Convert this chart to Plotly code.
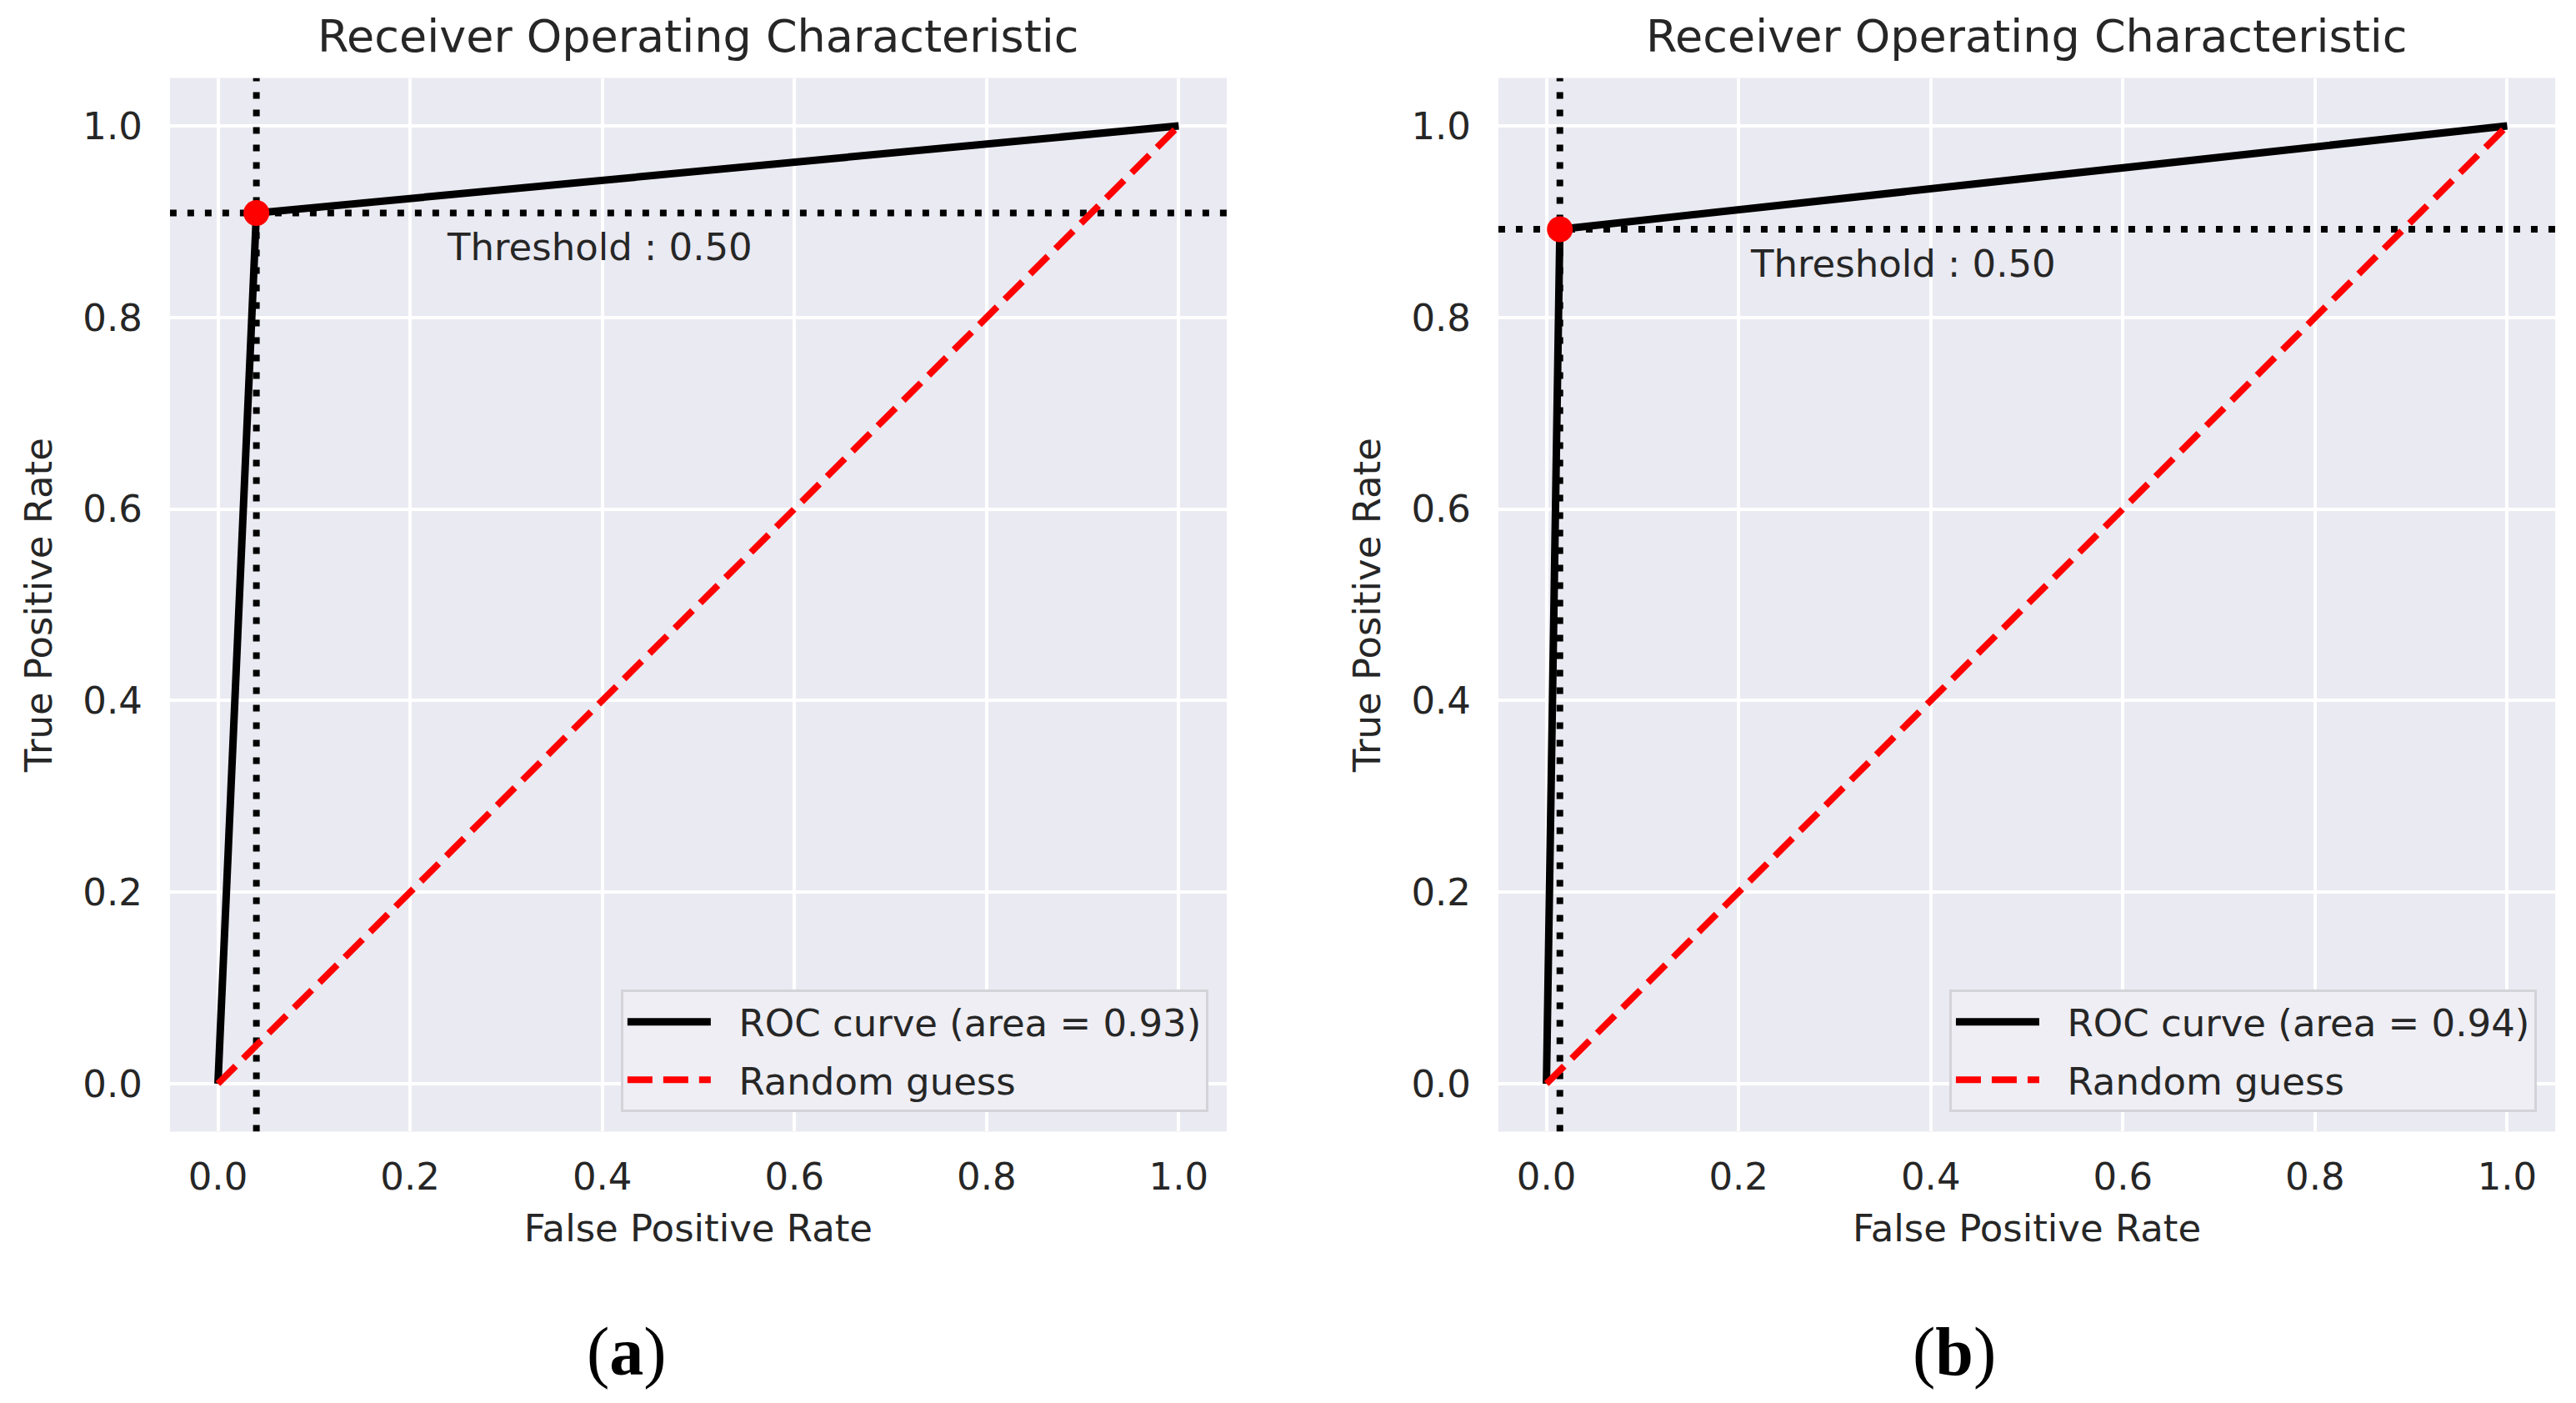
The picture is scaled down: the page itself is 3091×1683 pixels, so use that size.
import plotly.graph_objects as go

# ROC data
fpr_a = [0.0, 0.040, 1.0]
tpr_a = [0.0, 0.909, 1.0]
fpr_b = [0.0, 0.014, 1.0]
tpr_b = [0.0, 0.892, 1.0]
auc_a = 0.93
auc_b = 0.94
threshold = 0.50
chance = [0.0, 1.0]
ticks = [0.0, 0.2, 0.4, 0.6, 0.8, 1.0]
axis_range = [-0.05, 1.05]
captions = ['a', 'b']

TXT = '#262626'
FONT = 'DejaVu Sans'
DOT = '8px,13px'
NB = '\u00a0\u00a0'  # small gap between legend line and label

fig = go.Figure()

panels = [
    (fpr_a, tpr_a, auc_a, 'x', 'y', 'legend'),
    (fpr_b, tpr_b, auc_b, 'x2', 'y2', 'legend2'),
]

for fpr, tpr, auc, xa, ya, lg in panels:
    op_x, op_y = fpr[1], tpr[1]

    # dotted guide lines through the operating point, across the whole axes
    fig.add_shape(type='line', xref=xa, yref=ya,
                  x0=axis_range[0], x1=axis_range[1], y0=op_y, y1=op_y,
                  line=dict(color='black', width=8, dash=DOT), layer='between')
    fig.add_shape(type='line', xref=xa, yref=ya,
                  x0=op_x, x1=op_x, y0=axis_range[0], y1=axis_range[1],
                  line=dict(color='black', width=8, dash=DOT), layer='between')

    fig.add_trace(go.Scatter(
        x=fpr, y=tpr, mode='lines', xaxis=xa, yaxis=ya,
        name=f'{NB}ROC curve (area = {auc:.2f})',
        line=dict(color='black', width=9),
        legend=lg, legendgroup=f'{lg}roc'
    ))
    fig.add_trace(go.Scatter(
        x=chance, y=chance, mode='lines', xaxis=xa, yaxis=ya,
        name=f'{NB}Random guess',
        line=dict(color='red', width=8, dash='30px,13px'),
        legend=lg, legendgroup=f'{lg}rand'
    ))
    fig.add_trace(go.Scatter(
        x=[op_x], y=[op_y], mode='markers', xaxis=xa, yaxis=ya,
        marker=dict(color='red', size=31), showlegend=False
    ))
    fig.add_annotation(
        x=op_x + 0.2, y=op_y - 0.05, xref=xa, yref=ya,
        text=f'Threshold : {threshold:.2f}', showarrow=False,
        xanchor='left', yanchor='middle', yshift=16, xshift=-4,
        font=dict(family=FONT, size=45, color=TXT)
    )

axis_common = dict(
    range=axis_range, tickvals=ticks, tickformat='.1f',
    showgrid=True, gridcolor='white', gridwidth=4,
    zeroline=False, showline=False, ticks='',
    tickfont=dict(family=FONT, size=45, color=TXT),
)
xtitle = dict(text='False Positive Rate', standoff=20,
              font=dict(family=FONT, size=45, color=TXT))
ytitle = dict(text='True Positive Rate', standoff=22,
              font=dict(family=FONT, size=45, color=TXT))
legend_common = dict(
    y=0.2046, xanchor='right', yanchor='bottom',
    bgcolor='#EEEEF4', bordercolor='#D3D3D8', borderwidth=3,
    font=dict(family=FONT, size=45, color=TXT),
    tracegroupgap=8, itemwidth=100,
)

# page body adds an 8px margin, so the figure is 16px smaller than the window
fig.update_layout(
    width=3075, height=1667,
    margin=dict(l=0, r=0, t=0, b=0),
    paper_bgcolor='white', plot_bgcolor='#EAEAF2',
    font=dict(family=FONT, color=TXT),
    xaxis=dict(domain=[0.0637, 0.4761], anchor='y', title=xtitle,
               ticklabelstandoff=24, **axis_common),
    yaxis=dict(domain=[0.1905, 0.9487], anchor='x', title=ytitle,
               ticklabelstandoff=32, **axis_common),
    xaxis2=dict(domain=[0.5821, 0.9945], anchor='y2', title=xtitle,
                ticklabelstandoff=24, **axis_common),
    yaxis2=dict(domain=[0.1905, 0.9487], anchor='x2', title=ytitle,
                ticklabelstandoff=32, **axis_common),
    legend=dict(x=0.4689, **legend_common),
    legend2=dict(x=0.9873, **legend_common),
    showlegend=True,
)

# panel titles
for xa in ['x', 'x2']:
    fig.add_annotation(
        x=0.5, y=1.0, xref=f'{xa} domain', yref='paper', yanchor='top', yshift=-2,
        text='Receiver Operating Characteristic', showarrow=False,
        font=dict(family=FONT, size=54, color=TXT)
    )

# sub-figure captions
for cx, lab in zip([0.2420, 0.7600], captions):
    fig.add_annotation(
        x=cx, y=0.032, xref='paper', yref='paper',
        xanchor='center', yanchor='middle',
        text=f'(<b>{lab}</b>)', showarrow=False,
        font=dict(family='Liberation Serif', size=82, color='black')
    )

fig.write_html('out.html')
